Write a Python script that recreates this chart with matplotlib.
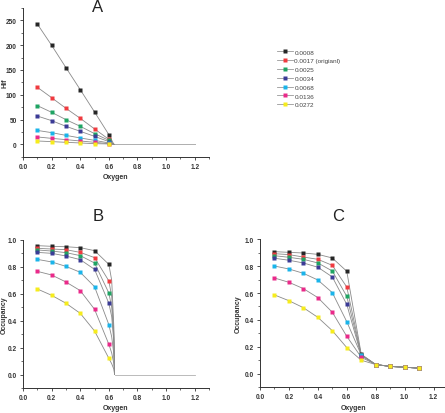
import matplotlib
matplotlib.use("Agg")
import matplotlib.pyplot as plt
from matplotlib.lines import Line2D
from matplotlib.ticker import MultipleLocator, FormatStrFormatter

plt.rcParams['font.family'] = ['Liberation Sans', 'DejaVu Sans']

labels = ["0.0008", "0.0017 (origianl)", "0.0025", "0.0034", "0.0068", "0.0136", "0.0272"]
colors = ["#262626", "#f03a3f", "#1fa463", "#3b3b96", "#1ab4ea", "#ea2a8a", "#f6ec1c"]

oxygen = [0.1, 0.2, 0.3, 0.4, 0.5, 0.6]

# Panel A: Hif
hif = [
    [242.6, 199.6, 154.6, 110.2, 65.2, 19.5],
    [115.0, 94.0, 72.6, 52.4, 31.0, 10.0],
    [78.0, 64.5, 49.7, 36.3, 21.5, 8.0],
    [57.0, 47.7, 36.3, 26.2, 16.0, 5.4],
    [28.0, 23.5, 18.0, 12.8, 8.0, 2.7],
    [14.8, 12.0, 9.4, 6.7, 4.0, 1.3],
    [6.7, 5.4, 4.0, 2.7, 1.3, 0.7],
]
hif_zero_x = 0.635
tail_x = [0.635, 1.2]
tail_y = [0.0, 0.0]

# Panel B: occupancy (fitted)
occ_b = [
    [0.958, 0.953, 0.950, 0.943, 0.921, 0.819],
    [0.938, 0.933, 0.928, 0.908, 0.869, 0.696],
    [0.926, 0.918, 0.906, 0.884, 0.829, 0.606],
    [0.908, 0.901, 0.881, 0.854, 0.782, 0.530],
    [0.856, 0.837, 0.804, 0.760, 0.653, 0.371],
    [0.767, 0.740, 0.688, 0.624, 0.485, 0.225],
    [0.636, 0.589, 0.530, 0.455, 0.324, 0.121],
]
# curve read-offs past the last marker (x = 0.62, 0.635, 0.64)
curve_tail_x = [0.62, 0.635, 0.64]
curve_tail_b = [
    [0.70, 0.35, 0.0],
    [0.58, 0.30, 0.0],
    [0.50, 0.27, 0.0],
    [0.43, 0.24, 0.0],
    [0.28, 0.15, 0.0],
    [0.16, 0.08, 0.0],
    [0.08, 0.04, 0.0],
]
b_flat_x = [0.64, 1.2]

# Panel C: occupancy
oxygen_c = [0.1, 0.2, 0.3, 0.4, 0.5, 0.6, 0.7, 0.8, 0.9, 1.0, 1.1]
occ_c = [
    [0.908, 0.903, 0.898, 0.888, 0.861, 0.762, 0.145, 0.068, 0.054, 0.048, 0.041],
    [0.893, 0.886, 0.868, 0.851, 0.806, 0.645, 0.140, 0.068, 0.054, 0.048, 0.041],
    [0.878, 0.866, 0.851, 0.824, 0.764, 0.576, 0.138, 0.068, 0.054, 0.048, 0.041],
    [0.859, 0.844, 0.824, 0.792, 0.720, 0.516, 0.135, 0.068, 0.054, 0.048, 0.041],
    [0.801, 0.779, 0.747, 0.697, 0.603, 0.387, 0.140, 0.068, 0.054, 0.048, 0.041],
    [0.712, 0.680, 0.633, 0.566, 0.457, 0.278, 0.122, 0.068, 0.054, 0.048, 0.041],
    [0.586, 0.543, 0.491, 0.419, 0.320, 0.194, 0.100, 0.068, 0.054, 0.048, 0.041],
]

W, H = 445, 414
fig = plt.figure(figsize=(W / 100, H / 100), dpi=100)


def ax_px(left, top, right, bottom):
    return fig.add_axes([left / W, 1 - bottom / H, (right - left) / W, (bottom - top) / H])


LINE = "#8a8a8a"
MS = 2.6
TICKFS = 4.7
LABFS = 5.0


def style(ax, ylabel, ymaj, ymin, yfmt, ylab_x):
    for s in ("top", "right"):
        ax.spines[s].set_visible(False)
    for s in ("left", "bottom"):
        ax.spines[s].set_linewidth(0.7)
        ax.spines[s].set_color("#333333")
    ax.set_xlim(0, 1.3)
    ax.xaxis.set_major_locator(MultipleLocator(0.2))
    ax.xaxis.set_minor_locator(MultipleLocator(0.1))
    ax.xaxis.set_major_formatter(FormatStrFormatter("%.1f"))
    ax.yaxis.set_major_locator(MultipleLocator(ymaj))
    ax.yaxis.set_minor_locator(MultipleLocator(ymin))
    ax.yaxis.set_major_formatter(FormatStrFormatter(yfmt))
    ax.tick_params(which="major", direction="out", length=2.5, width=0.6, pad=2,
                   labelsize=TICKFS, colors="#333333")
    ax.tick_params(which="minor", direction="out", length=1.5, width=0.5, colors="#333333")
    for t in ax.get_xticklabels() + ax.get_yticklabels():
        t.set_fontweight("bold")
    xl = ax.set_xlabel("Oxygen", fontsize=LABFS, fontweight="bold", color="#333333")
    xl.set_verticalalignment("center")
    ax.xaxis.set_label_coords(0.5, -0.135)
    yl = ax.set_ylabel(ylabel, fontsize=LABFS, fontweight="bold", color="#333333")
    yl.set_verticalalignment("center")
    ax.yaxis.set_label_coords(ylab_x, 0.5)
    ax.patch.set_alpha(0)


# ---- Panel A
axA = ax_px(23, 8.9, 209, 157.7)
axA.set_ylim(-25, 275)
for i in range(len(hif)):
    axA.plot(tail_x, tail_y, color="#b0b0b0", lw=0.6, zorder=1)
for i in range(len(hif)):
    axA.plot(oxygen + [hif_zero_x], hif[i] + [0.0], color=LINE, lw=0.6, zorder=2)
    axA.plot(oxygen, hif[i], ls="none", marker="s", ms=MS, mec="none", color=colors[i], zorder=3)
style(axA, "Hif", 50, 25, "%d", -0.095)

# ---- Panel B
axB = ax_px(23, 241, 209, 389)
axB.set_ylim(-0.1, 1.0)
axB.plot(b_flat_x, [0, 0], color="#b0b0b0", lw=0.6, zorder=1)
for i in range(len(occ_b)):
    axB.plot(oxygen + curve_tail_x, occ_b[i] + curve_tail_b[i], color=LINE, lw=0.6, zorder=2)
    axB.plot(oxygen, occ_b[i], ls="none", marker="s", ms=MS, mec="none", color=colors[i], zorder=3)
style(axB, "Occupancy", 0.2, 0.1, "%.1f", -0.1)

# ---- Panel C
axC = ax_px(260, 240.3, 448, 388.1)
axC.set_ylim(-0.1, 1.0)
for i in range(len(occ_c)):
    axC.plot(oxygen_c, occ_c[i], color=LINE, lw=0.6, zorder=2)
for i in range(len(occ_c)):
    axC.plot(oxygen_c, occ_c[i], ls="none", marker="s", ms=MS, mec="none", color=colors[i], zorder=3)
style(axC, "Occupancy", 0.2, 0.1, "%.1f", -0.115)

# titles
for txt, x, y in (("A", 98, 8), ("B", 98, 217), ("C", 338, 217)):
    fig.text(x / W, 1 - y / H, txt, fontsize=12, ha="center", va="center", color="#222222")

# legend
handles = [Line2D([0], [0], color="#999999", lw=0.6, marker="s", ms=MS, mec="none", mfc=c)
           for c in colors]
fig.legend(handles, labels, loc="upper left", bbox_to_anchor=(274 / W, 1 - 47 / H),
           frameon=False, fontsize=4.6, handlelength=2.4, handletextpad=0.3,
           labelspacing=0.52, borderpad=0, labelcolor="#444444")

fig.savefig("out.png", dpi=100)
